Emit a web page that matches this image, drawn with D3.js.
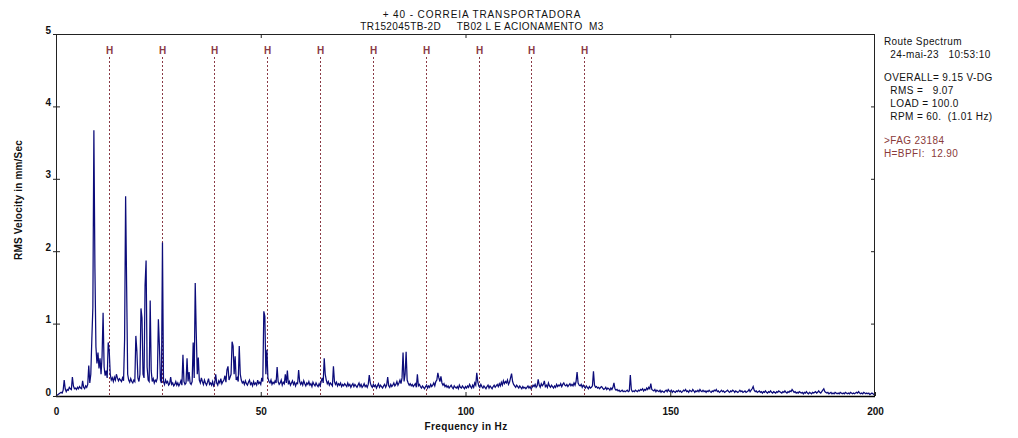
<!DOCTYPE html>
<html><head><meta charset="utf-8">
<script src="https://cdn.jsdelivr.net/npm/d3@7/dist/d3.min.js"></script>
<style>
html,body{margin:0;padding:0;background:#fff;}
svg{display:block;font-family:"Liberation Sans",Arial,sans-serif;}
</style></head><body>
<svg id="c" width="1018" height="438"></svg>
<script>
// ---- data ----
const titleLines = ["+ 40 - CORREIA TRANSPORTADORA", "TR152045TB-2D     TB02 L E ACIONAMENTO  M3"];
const xLabel = "Frequency in Hz";
const yLabel = "RMS Velocity in mm/Sec";
const xTicks = [0, 50, 100, 150, 200];
const yTicks = [0, 1, 2, 3, 4, 5];
const infoLines = ["Route Spectrum", "  24-mai-23   10:53:10", "", "OVERALL= 9.15 V-DG", "  RMS =   9.07", "  LOAD = 100.0", "  RPM = 60.  (1.01 Hz)"];
const faultLines = [">FAG 23184", "H=BPFI:  12.90"];
const harmonicHz = [12.9, 25.8, 38.7, 51.6, 64.5, 77.4, 90.3, 103.2, 116.1, 129.0];
const harmonicLabel = "H";
const startHz = 0, stepHz = 0.25;
// amplitude (mm/s RMS) per 0.25 Hz line, 0..200 Hz
const spectrum = [
0.00,0.01,0.02,0.03, 0.04,0.05,0.04,0.08, 0.22,0.10,0.06,0.09, 0.08,0.12,0.10,0.09, 0.26,0.14,0.10,0.11,
0.09,0.12,0.10,0.13, 0.11,0.10,0.21,0.12, 0.10,0.14,0.12,0.16, 0.42,0.18,0.30,0.78, 1.22,3.67,1.78,0.68,
0.45,0.60,0.38,0.52, 0.30,0.55,1.15,0.40, 0.28,0.35,0.25,0.74, 0.62,0.30,0.22,0.25, 0.20,0.26,0.22,0.30,
0.25,0.21,0.24,0.22, 0.20,0.25,0.21,0.78, 2.76,1.51,0.30,0.22, 0.19,0.24,0.20,0.18, 0.22,0.20,0.83,0.62,
0.25,0.20,0.30,1.21, 1.08,0.30,0.25,1.53, 1.87,0.40,0.22,0.20, 1.32,0.35,0.20,0.24, 0.18,0.22,0.20,0.25,
1.06,0.70,0.22,0.18, 2.12,0.20,0.16,0.22, 0.18,0.20,0.15,0.17, 0.26,0.16,0.18,0.14, 0.16,0.20,0.15,0.18,
0.14,0.17,0.21,0.15, 0.57,0.20,0.16,0.18, 0.52,0.20,0.33,0.18, 0.16,0.20,0.74,0.25, 1.56,0.87,0.30,0.53,
0.22,0.18,0.25,0.20, 0.16,0.22,0.18,0.15, 0.19,0.24,0.16,0.18, 0.15,0.20,0.14,0.17, 0.30,0.18,0.15,0.21,
0.18,0.24,0.17,0.20, 0.22,0.28,0.19,0.36, 0.41,0.22,0.26,0.30, 0.75,0.69,0.30,0.55, 0.22,0.25,0.20,0.69,
0.30,0.22,0.18,0.20, 0.16,0.21,0.17,0.15, 0.19,0.22,0.16,0.18, 0.14,0.20,0.16,0.18, 0.15,0.22,0.17,0.19,
0.16,0.25,0.20,1.17, 1.10,0.30,0.64,0.25, 0.20,0.18,0.22,0.16, 0.19,0.17,0.21,0.18, 0.40,0.20,0.16,0.18,
0.22,0.15,0.19,0.17, 0.30,0.18,0.35,0.16, 0.20,0.15,0.18,0.21, 0.16,0.19,0.14,0.18, 0.17,0.36,0.20,0.16,
0.19,0.15,0.21,0.17, 0.14,0.18,0.16,0.20, 0.15,0.17,0.13,0.19, 0.16,0.14,0.18,0.15, 0.13,0.17,0.14,0.20,
0.25,0.18,0.52,0.30, 0.22,0.17,0.20,0.15, 0.18,0.16,0.14,0.41, 0.20,0.16,0.19,0.14, 0.17,0.15,0.18,0.13,
0.16,0.14,0.17,0.15, 0.13,0.18,0.14,0.16, 0.12,0.15,0.17,0.13, 0.16,0.14,0.12,0.15, 0.18,0.13,0.16,0.12,
0.14,0.17,0.13,0.15, 0.12,0.16,0.29,0.18, 0.14,0.12,0.16,0.13, 0.15,0.11,0.14,0.17, 0.12,0.15,0.13,0.11,
0.14,0.16,0.12,0.15, 0.26,0.14,0.12,0.16, 0.13,0.15,0.18,0.14, 0.16,0.20,0.15,0.18, 0.22,0.17,0.25,0.60,
0.20,0.30,0.61,0.22, 0.18,0.15,0.17,0.14, 0.16,0.13,0.15,0.17, 0.12,0.30,0.14,0.16, 0.13,0.11,0.14,0.12,
0.10,0.13,0.15,0.11, 0.14,0.12,0.16,0.13, 0.15,0.18,0.14,0.20, 0.22,0.32,0.25,0.20, 0.27,0.18,0.15,0.17,
0.13,0.15,0.12,0.14, 0.11,0.13,0.15,0.12, 0.10,0.14,0.12,0.11, 0.13,0.10,0.15,0.12, 0.11,0.14,0.12,0.10,
0.13,0.11,0.14,0.12, 0.16,0.13,0.11,0.15, 0.12,0.18,0.15,0.32, 0.20,0.14,0.12,0.16, 0.13,0.11,0.14,0.12,
0.10,0.13,0.15,0.11, 0.14,0.12,0.10,0.13, 0.15,0.12,0.14,0.16, 0.13,0.17,0.14,0.19, 0.15,0.21,0.17,0.20,
0.18,0.22,0.16,0.19, 0.25,0.31,0.20,0.16, 0.14,0.12,0.15,0.13, 0.11,0.14,0.12,0.10, 0.13,0.11,0.12,0.10,
0.12,0.14,0.11,0.13, 0.10,0.12,0.15,0.13, 0.16,0.12,0.14,0.23, 0.15,0.12,0.17,0.14, 0.16,0.21,0.13,0.15,
0.12,0.18,0.14,0.12, 0.15,0.13,0.11,0.14, 0.12,0.16,0.13,0.15, 0.14,0.17,0.13,0.16, 0.18,0.15,0.14,0.16,
0.13,0.15,0.17,0.14, 0.16,0.14,0.18,0.15, 0.20,0.33,0.18,0.15, 0.14,0.16,0.12,0.15, 0.13,0.11,0.14,0.12,
0.10,0.13,0.11,0.12, 0.14,0.34,0.15,0.12, 0.13,0.11,0.12,0.10, 0.12,0.13,0.11,0.09, 0.10,0.12,0.09,0.11,
0.10,0.08,0.11,0.09, 0.12,0.18,0.10,0.08, 0.09,0.07,0.08,0.06, 0.07,0.08,0.06,0.07, 0.06,0.07,0.08,0.06,
0.07,0.29,0.09,0.06, 0.07,0.06,0.08,0.07, 0.06,0.08,0.07,0.09, 0.08,0.10,0.07,0.09, 0.08,0.11,0.09,0.12,
0.10,0.17,0.09,0.08, 0.07,0.09,0.06,0.08, 0.07,0.06,0.08,0.05, 0.07,0.06,0.05,0.07, 0.08,0.06,0.09,0.07,
0.06,0.08,0.05,0.07, 0.06,0.05,0.07,0.06, 0.08,0.06,0.07,0.05, 0.06,0.08,0.07,0.09, 0.06,0.07,0.05,0.08,
0.07,0.06,0.09,0.07, 0.05,0.07,0.06,0.08, 0.06,0.09,0.07,0.06, 0.08,0.06,0.07,0.05, 0.07,0.06,0.08,0.06,
0.05,0.07,0.06,0.08, 0.07,0.09,0.06,0.07, 0.05,0.06,0.08,0.06, 0.07,0.05,0.06,0.07, 0.08,0.06,0.05,0.07,
0.06,0.08,0.07,0.05, 0.07,0.06,0.05,0.06, 0.08,0.06,0.07,0.05, 0.06,0.07,0.05,0.06, 0.07,0.09,0.06,0.08,
0.10,0.13,0.08,0.06, 0.07,0.05,0.06,0.07, 0.05,0.06,0.04,0.06, 0.05,0.07,0.05,0.04, 0.06,0.05,0.07,0.05,
0.04,0.06,0.05,0.04, 0.06,0.05,0.07,0.06, 0.05,0.04,0.06,0.05, 0.07,0.05,0.04,0.06, 0.05,0.07,0.06,0.09,
0.07,0.05,0.06,0.04, 0.05,0.04,0.06,0.05, 0.04,0.05,0.03,0.05, 0.04,0.06,0.04,0.03, 0.05,0.04,0.03,0.05,
0.04,0.05,0.06,0.04, 0.05,0.07,0.05,0.04, 0.06,0.08,0.10,0.06, 0.05,0.04,0.05,0.03, 0.04,0.05,0.03,0.04,
0.03,0.05,0.04,0.03, 0.04,0.03,0.05,0.04, 0.03,0.04,0.03,0.05, 0.04,0.03,0.04,0.03, 0.05,0.04,0.03,0.04,
0.03,0.04,0.05,0.04, 0.06,0.04,0.03,0.04, 0.03,0.05,0.04,0.03, 0.04,0.03,0.04,0.02, 0.03,0.04,0.03,0.02,
0.02
];

// ---- layout ----
const L = 56, R = 875, T = 34, B = 396;
const svg = d3.select("#c");
const x = d3.scaleLinear().domain([0, 200]).range([L, R]);
const y = d3.scaleLinear().domain([0, 5]).range([B, T]);
const font = '"Liberation Sans", Arial, sans-serif';

// titles
svg.selectAll("text.title").data(titleLines).join("text")
  .attr("class", "title").attr("x", 482).attr("y", (d, i) => 18 + i * 12)
  .attr("text-anchor", "middle").attr("font-size", 10).attr("letter-spacing", (d, i) => i === 0 ? 0.9 : 0.4)
  .attr("fill", "#111").style("white-space", "pre").text(d => d);

// harmonic markers
const hColor = "#8a3a46";
const hg = svg.append("g");
hg.selectAll("line").data(harmonicHz).join("line")
  .attr("x1", d => Math.round(x(d)) + 0.5).attr("x2", d => Math.round(x(d)) + 0.5)
  .attr("y1", 57).attr("y2", B)
  .attr("stroke", hColor).attr("stroke-width", 1).attr("stroke-dasharray", "2,2");
hg.selectAll("text").data(harmonicHz).join("text")
  .attr("x", d => Math.round(x(d)) + 0.5).attr("y", 54)
  .attr("text-anchor", "middle").attr("font-size", 10).attr("font-weight", "bold")
  .attr("fill", hColor).text(harmonicLabel);

// spectrum line
const line = d3.line().x((d, i) => x(startHz + i * stepHz)).y(d => y(d));
svg.append("path").datum(spectrum).attr("d", line)
  .attr("fill", "none").attr("stroke", "#0c0c7a").attr("stroke-width", 1.25)
  .attr("stroke-linejoin", "miter");

// frame
svg.append("rect").attr("x", L + 0.5).attr("y", T + 0.5).attr("width", R - L - 1).attr("height", B - T)
  .attr("fill", "none").attr("stroke", "#222").attr("stroke-width", 1);
svg.append("line").attr("x1", L).attr("x2", R).attr("y1", B + 0.5).attr("y2", B + 0.5)
  .attr("stroke", "#000").attr("stroke-width", 1.5);

// axes
const axB = svg.append("g").attr("transform", `translate(0,${B})`)
  .call(d3.axisBottom(x).tickValues(xTicks).tickSize(-4).tickPadding(12).tickFormat(d3.format("d")));
const axT = svg.append("g").attr("transform", `translate(0,${T})`)
  .call(d3.axisTop(x).tickValues(xTicks.slice(1, -1)).tickSize(-4).tickFormat(""));
const axL = svg.append("g").attr("transform", `translate(${L},0)`)
  .call(d3.axisLeft(y).tickValues(yTicks).tickSize(3).tickPadding(2).tickFormat(d3.format("d")));
const axR = svg.append("g").attr("transform", `translate(${R},0)`)
  .call(d3.axisRight(y).tickValues(yTicks.slice(1, -1)).tickSize(-4).tickFormat(""));
axL.selectAll(".tick line").attr("x2", -3).attr("x1", 4);
[axB, axT, axL, axR].forEach(a => {
  a.select(".domain").remove();
  a.selectAll(".tick line").attr("stroke", "#222");
  a.selectAll("text").attr("font-family", font).attr("font-size", 10).attr("font-weight", "bold").attr("fill", "#111");
});
axL.selectAll(".tick text").attr("dy", "-0.1em");

// axis labels
svg.append("text").attr("x", 466).attr("y", 430).attr("text-anchor", "middle")
  .attr("font-size", 10).attr("font-weight", "bold").attr("letter-spacing", 0.4).attr("fill", "#111").text(xLabel);
svg.append("text").attr("transform", "translate(22,200) rotate(-90)").attr("text-anchor", "middle")
  .attr("font-size", 10).attr("font-weight", "bold").attr("letter-spacing", 0.2).attr("fill", "#111").text(yLabel);

// info text
const infoY = [45, 58, 0, 81, 94, 107, 120];
svg.selectAll("text.info").data(infoLines.map((t, i) => ({ t, y: infoY[i] })).filter(d => d.t))
  .join("text").attr("class", "info").attr("x", 884).attr("y", d => d.y)
  .attr("font-size", 10).attr("letter-spacing", 0.4).attr("fill", "#111")
  .style("white-space", "pre").text(d => d.t);
svg.selectAll("text.fault").data(faultLines).join("text")
  .attr("class", "fault").attr("x", 884).attr("y", (d, i) => 144 + i * 13)
  .attr("font-size", 10).attr("letter-spacing", 0.4).attr("fill", "#8a3a3a")
  .style("white-space", "pre").text(d => d);
</script>
</body></html>
